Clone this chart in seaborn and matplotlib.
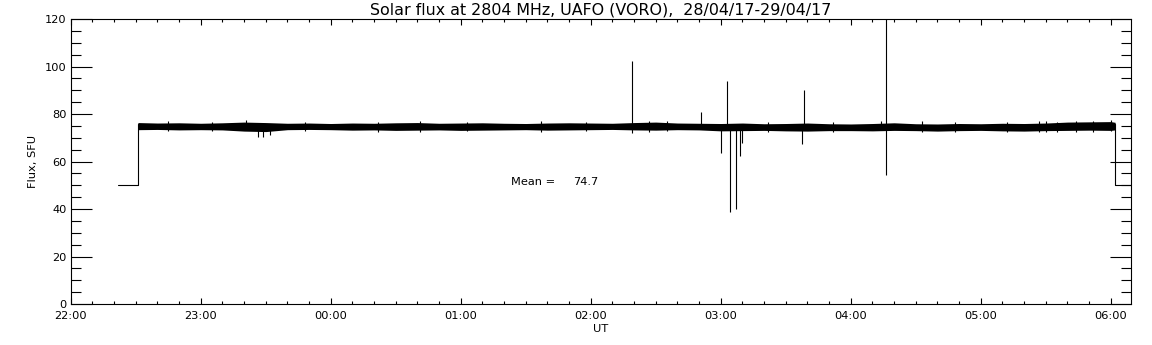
import numpy as np
import pandas as pd
import matplotlib
matplotlib.use("Agg")
import matplotlib.pyplot as plt
from matplotlib.ticker import MultipleLocator, FuncFormatter
import seaborn as sns

band_time = ["22:31", "22:40", "22:50", "23:00", "23:10", "23:20", "23:30", "23:40", "23:50",
             "00:00", "00:10", "00:20", "00:30", "00:40", "00:50", "01:00", "01:10", "01:20",
             "01:30", "01:40", "01:50", "02:00", "02:10", "02:20", "02:30", "02:40", "02:50",
             "03:00", "03:10", "03:20", "03:30", "03:40", "03:50", "04:00", "04:10", "04:20",
             "04:30", "04:40", "04:50", "05:00", "05:10", "05:20", "05:30", "05:40", "05:50",
             "06:00", "06:02"]
band_upper = [76.4, 76.2, 76.3, 76.1, 76.3, 76.6, 76.4, 76.1, 76.2,
              76.0, 76.2, 76.1, 76.3, 76.4, 76.1, 76.2, 76.3, 76.1,
              76.0, 76.2, 76.3, 76.2, 76.1, 76.4, 76.6, 76.2, 76.1,
              76.0, 76.2, 75.9, 76.0, 76.2, 75.9, 75.8, 76.0, 76.3,
              75.9, 75.8, 76.0, 75.9, 76.1, 76.0, 76.2, 76.6, 76.7,
              76.8, 76.5]
band_lower = [73.4, 73.5, 73.3, 73.4, 73.3, 72.8, 72.6, 73.4, 73.5,
              73.4, 73.2, 73.3, 73.1, 73.2, 73.3, 73.1, 73.2, 73.3,
              73.4, 73.2, 73.3, 73.4, 73.5, 73.3, 73.2, 73.4, 73.3,
              72.9, 73.0, 73.1, 72.9, 72.8, 73.0, 73.0, 72.9, 73.1,
              73.0, 72.8, 73.0, 73.1, 72.9, 72.8, 73.0, 73.1, 73.2,
              73.1, 73.3]

# Кратковременные всплески и провалы
spike_time = ["23:21:00", "23:26:30", "23:28:50", "23:32:00", "02:19:05", "02:51:00",
              "03:00:00", "03:03:00", "03:04:26", "03:07:12", "03:09:00", "03:09:40",
              "03:37:41", "03:38:35", "04:14:10", "04:16:26"]
spike_low = [75.0, 70.5, 70.4, 71.2, 72.0, 74.0, 63.7, 75.0, 38.9, 40.1, 62.4, 67.8,
             67.5, 75.0, 75.0, 54.4]
spike_high = [77.5, 74.0, 74.0, 74.0, 102.4, 80.8, 74.0, 93.9, 75.0, 75.0, 74.0, 74.0,
              74.0, 90.1, 77.0, 125.0]

# Мелкие выбросы по краям полосы шума
fuzz_time = ["22:45", "23:05", "23:48", "00:22", "00:41", "01:03", "01:37", "01:58",
             "02:27", "02:35", "03:22", "03:52", "04:33", "04:48", "05:12", "05:27",
             "05:30", "05:35", "05:44", "05:52", "06:00"]
fuzz_low = [72.8, 72.7, 72.9, 72.6, 72.5, 72.7, 72.6, 72.9, 72.6, 72.7, 72.3, 72.4,
            72.5, 72.3, 72.4, 72.6, 72.5, 72.4, 72.6, 72.5, 72.7]
fuzz_high = [76.9, 76.8, 76.7, 76.8, 77.0, 76.7, 76.9, 76.8, 77.1, 77.0, 76.7, 76.6,
             76.9, 76.6, 76.7, 77.0, 77.2, 76.8, 77.1, 77.0, 77.5]

# Ступеньки в начале и в конце записи
edge_time = ["22:22", "22:31", "22:31"]
edge_flux = [50, 50, 76]
tail_time = ["06:02", "06:02", "06:09:20"]
tail_flux = [76, 50, 50]

mean_flux = 74.7


def to_hours(s):
    parts = [float(p) for p in s.split(":")]
    h = parts[0] + parts[1] / 60 + (parts[2] / 3600 if len(parts) > 2 else 0)
    return h + 24 if h < 12 else h


sns.set_style("ticks")
plt.rcParams['font.family'] = ['DejaVu Sans']
plt.rcParams.update({"text.color": "black", "axes.labelcolor": "black",
                     "xtick.color": "black", "ytick.color": "black",
                     "axes.edgecolor": "black"})

fig = plt.figure(figsize=(11.52, 3.45), dpi=100)
ax = fig.add_axes([0.0614, 0.1188, 0.9204, 0.8261])

bt = [to_hours(t) for t in band_time]
ax.fill_between(bt, band_lower, band_upper, color="black", linewidth=0)

ax.vlines([to_hours(t) for t in fuzz_time], fuzz_low, fuzz_high, color="black", linewidth=0.8)
ax.vlines([to_hours(t) for t in spike_time], spike_low, spike_high, color="black", linewidth=0.8)

head = pd.DataFrame({"t": [to_hours(t) for t in edge_time], "f": edge_flux})
tail = pd.DataFrame({"t": [to_hours(t) for t in tail_time], "f": tail_flux})
sns.lineplot(data=head, x="t", y="f", sort=False, estimator=None, color="black", linewidth=0.8, ax=ax)
sns.lineplot(data=tail, x="t", y="f", sort=False, estimator=None, color="black", linewidth=0.8, ax=ax)

ax.set_xlim(22, to_hours("06:09:20"))
ax.set_ylim(0, 120)

ax.xaxis.set_major_locator(MultipleLocator(1))
ax.xaxis.set_minor_locator(MultipleLocator(1 / 6))
ax.xaxis.set_major_formatter(FuncFormatter(lambda v, p: "%02d:00" % (int(round(v)) % 24)))
ax.yaxis.set_major_locator(MultipleLocator(20))
ax.yaxis.set_minor_locator(MultipleLocator(5))

ax.tick_params(axis="x", which="major", direction="in", length=4, width=0.8, top=True, pad=5, labelsize=8.2)
ax.tick_params(axis="x", which="minor", direction="in", length=2, width=0.8, top=True)
ax.tick_params(axis="y", which="major", direction="in", length=15, width=0.8, right=True, pad=3, labelsize=8.2)
ax.tick_params(axis="y", which="minor", direction="in", length=7.5, width=0.8, right=True)
for s in ax.spines.values():
    s.set_linewidth(0.8)

ax.set_xlabel("UT", fontsize=8.2, labelpad=2)
ax.set_ylabel("Flux, SFU", fontsize=8.2, labelpad=5)
ax.set_title("Solar flux at 2804 MHz, UAFO (VORO),  28/04/17-29/04/17", fontsize=11.4, pad=3)

ax.text(25.385, 51.4, "Mean =", fontsize=8.2, va="center", ha="left")
ax.text(25.867, 51.4, "%.1f" % mean_flux, fontsize=8.2, va="center", ha="left")

fig.savefig("out.png", dpi=100)
